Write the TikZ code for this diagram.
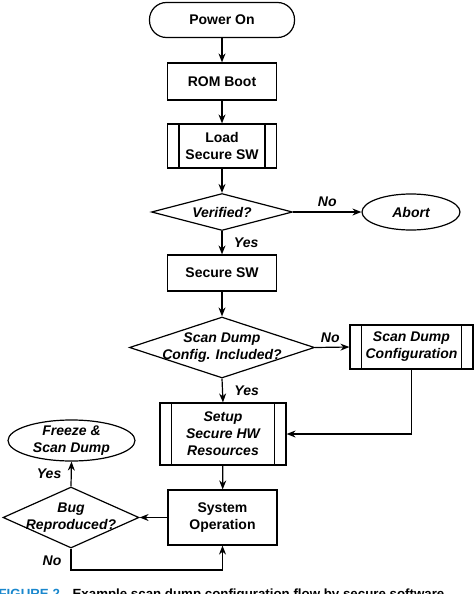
\documentclass[tikz,border=0pt]{standalone}
\usepackage{fontspec}
\setmainfont{Liberation Sans}
\usetikzlibrary{shapes.geometric,arrows.meta}
\definecolor{capblue}{RGB}{25,135,205}
\begin{document}
\begin{tikzpicture}[x=1pt,y=-1pt,
  line width=1.2pt,
  every node/.style={font=\fontsize{14}{17}\selectfont\bfseries, align=center},
  box/.style={draw, rectangle, inner sep=0},
  subbox/.style={box, path picture={
      \draw[line width=1.2pt] ([xshift=11.5pt]path picture bounding box.north west) -- ([xshift=11.5pt]path picture bounding box.south west);
      \draw[line width=1.2pt] ([xshift=-11.5pt]path picture bounding box.north east) -- ([xshift=-11.5pt]path picture bounding box.south east);}},
  term/.style={draw, rectangle, rounded corners=17pt, inner sep=0},
  dia/.style={draw, diamond, inner sep=0},
  ell/.style={draw, ellipse, inner sep=0},
  lbl/.style={font=\fontsize{14}{17}\selectfont\bfseries\itshape},
  arr/.style={-{Stealth[length=9pt,width=7pt]}},
]
\useasboundingbox (0,0) rectangle (474,594);

% nodes
\node[term, minimum width=145, minimum height=35] (pon) at (222,20) {Power On};
\node[box, minimum width=109, minimum height=37] (rom) at (222,81.5) {ROM Boot};
\node[subbox, minimum width=109, minimum height=44] (load) at (222,146) {Load\\Secure SW};
\node[dia, minimum width=141, minimum height=37] (ver) at (222,212) {};
\node[lbl] at (ver) {Verified?};
\node[ell, minimum width=98, minimum height=36] (abort) at (411,212) {};
\node[lbl] at (abort) {Abort};
\node[box, minimum width=109, minimum height=36] (ssw) at (222,273) {Secure SW};
\node[dia, minimum width=185, minimum height=61] (inc) at (222,347.5) {};
\node[lbl] at (inc) {Scan Dump\\Config. Included?};
\node[subbox, minimum width=123, minimum height=44, font=\fontsize{14}{17}\selectfont\bfseries\itshape] (scd) at (411.5,347) {Scan Dump\\Configuration};
\node[subbox, minimum width=126, minimum height=62, font=\fontsize{14}{17}\selectfont\bfseries\itshape] (setup) at (223,434) {Setup\\Secure HW\\Resources};
\node[box, minimum width=109, minimum height=55] (sys) at (222.5,517.5) {System\\Operation};
\node[dia, minimum width=136, minimum height=61] (bug) at (71,517.5) {};
\node[lbl] at (bug) {Bug\\Reproduced?};
\node[ell, minimum width=127, minimum height=41] (frz) at (71.5,440.5) {};
\node[lbl] at (frz) {Freeze \&\\Scan Dump};
\coordinate (lp) at (71,570);

% connectors
\draw[arr] (pon) -- (rom);
\draw[arr] (rom) -- (load);
\draw[arr] (load) -- (ver);
\draw[arr] (ver.east) -- (abort.west) node[lbl, midway, above=1pt] {No};
\draw[arr] (ver.south) -- (ssw.north) node[lbl, midway, right=8pt] {Yes};
\draw[arr] (ssw) -- (inc);
\draw[arr] (inc.east) -- (scd.west) node[lbl, midway, above=1pt, xshift=-2pt] {No};
\draw[arr] (inc.south) -- (setup.north) node[lbl, midway, right=8pt] {Yes};
\draw[arr] (scd.south) |- (setup.east);
\draw[arr] (setup) -- (sys);
\draw[arr] (sys.west) -- (bug.east);
\draw[arr] (bug.north) -- (frz.south) node[lbl, midway, left=6pt] {Yes};
\draw[arr] (bug.south) -- (lp) -| (sys.south);
\node[lbl] at (52,561) {No};

% caption (cut off at bottom)
\begin{scope}
\clip (0,0) rectangle (474,594);
\node[anchor=base west, inner sep=0, font=\fontsize{13.3}{15}\selectfont\bfseries, text=capblue] (capa) at (-2,598.5) {FIGURE 2.};
\node[anchor=base west, inner sep=0, font=\fontsize{13.3}{15}\selectfont\bfseries] (capb) at (72,598.5) {Example scan dump configuration flow by secure software.};
\end{scope}
\end{tikzpicture}
\end{document}
